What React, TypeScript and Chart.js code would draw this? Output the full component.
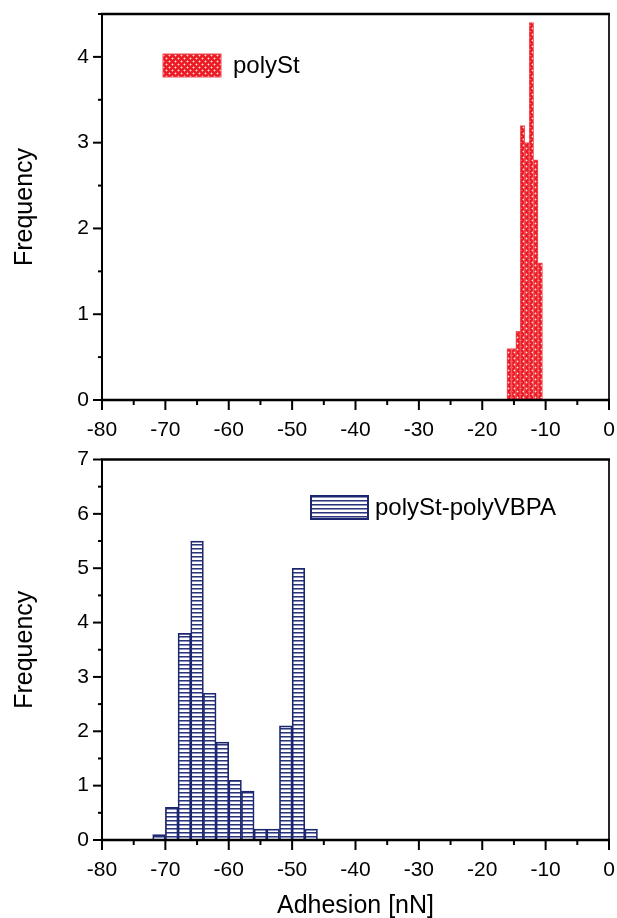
import React, { useEffect, useRef } from 'react';
import { Chart, registerables } from 'chart.js';

Chart.register(...registerables);

const FONT = "'Liberation Sans', Arial, Helvetica, sans-serif";

// ---- data ----
const xMin = -80;
const xMax = 0;
const topBinCenters = [-15.75, -15.05, -14.35, -13.65, -12.95, -12.25, -11.55, -10.85];
const topFrequency = [0.6, 0.6, 0.8, 3.2, 3.0, 4.4, 2.8, 1.6];
const topYMax = 4.5;
const bottomBinCenters = [-71, -69, -67, -65, -63, -61, -59, -57, -55, -53, -51, -49, -47];
const bottomFrequency = [0.1, 0.6, 3.8, 5.5, 2.7, 1.8, 1.1, 0.9, 0.2, 0.2, 2.1, 5.0, 0.2];
const bottomYMax = 7;
const topSeriesName = 'polySt';
const bottomSeriesName = 'polySt-polyVBPA';
const xTitle = 'Adhesion [nN]';
const yTitle = 'Frequency';

const TICK_SIZE = 21;
const TITLE_SIZE = 25;
const LEGEND_SIZE = 24;

function redPattern(ctx: CanvasRenderingContext2D) {
  const t = document.createElement('canvas');
  t.width = 6;
  t.height = 6;
  const c = t.getContext('2d')!;
  c.fillStyle = '#ec1c24';
  c.fillRect(0, 0, 6, 6);
  const dot = (x: number, y: number) => {
    c.fillStyle = 'rgba(255,255,255,0.9)';
    c.fillRect(x, y, 1, 1);
    c.fillStyle = 'rgba(255,255,255,0.35)';
    c.fillRect(x - 1, y, 1, 1);
    c.fillRect(x + 1, y, 1, 1);
    c.fillRect(x, y - 1, 1, 1);
    c.fillRect(x, y + 1, 1, 1);
  };
  dot(1, 1);
  dot(4, 4);
  return ctx.createPattern(t, 'repeat')!;
}

function bluePattern(ctx: CanvasRenderingContext2D) {
  const t = document.createElement('canvas');
  t.width = 4;
  t.height = 4;
  const c = t.getContext('2d')!;
  c.fillStyle = '#ffffff';
  c.fillRect(0, 0, 4, 4);
  c.fillStyle = '#2a3478';
  c.fillRect(0, 0, 4, 1);
  c.fillStyle = '#8d93bd';
  c.fillRect(0, 1, 4, 1);
  return ctx.createPattern(t, 'repeat')!;
}

const framePlugin = {
  id: 'frame',
  afterDraw(chart: any, _args: any, opts: any) {
    const { ctx, chartArea } = chart;
    const { left, right, top, bottom } = chartArea;
    const xs = chart.scales.x;
    const ys = chart.scales.y;
    ctx.save();
    ctx.strokeStyle = '#000';
    ctx.lineCap = 'butt';
    const line = (a: number, b: number, c: number, d: number) => {
      ctx.beginPath();
      ctx.moveTo(a, b);
      ctx.lineTo(c, d);
      ctx.stroke();
    };
    ctx.lineWidth = 2;
    xs.ticks.forEach((t: any) => {
      const px = xs.getPixelForValue(t.value);
      const major = Math.round(t.value) % 10 === 0;
      line(px, bottom, px, bottom + (major ? 10 : 5));
    });
    ys.ticks.forEach((t: any) => {
      const py = ys.getPixelForValue(t.value);
      const major = Number.isInteger(t.value);
      line(left - (major ? 9 : 4), py, left, py);
    });
    // frame
    ctx.lineWidth = 2.5;
    line(left - 1, top, right + 1, top);
    line(left - 1, bottom, right + 1, bottom);
    ctx.lineWidth = 2;
    line(left, top, left, bottom);
    ctx.lineWidth = 1.7;
    line(right, top, right, bottom);

    // legend
    const lg = opts.legend;
    if (lg) {
      ctx.fillStyle = lg.fill;
      ctx.fillRect(lg.x, lg.y, lg.w, lg.h);
      ctx.strokeStyle = lg.stroke;
      ctx.lineWidth = lg.strokeWidth;
      ctx.strokeRect(lg.x, lg.y, lg.w, lg.h);
      ctx.fillStyle = '#000';
      ctx.font = `${LEGEND_SIZE}px ${FONT}`;
      ctx.textBaseline = 'middle';
      ctx.textAlign = 'left';
      ctx.fillText(lg.text, lg.tx, lg.ty);
    }
    ctx.restore();
  },
};

type PanelProps = {
  height: number;
  centers: number[];
  freq: number[];
  yMax: number;
  name: string;
  kind: 'red' | 'blue';
  padTop: number;
  xAxisHeight: number;
  showXTitle: boolean;
  legendBox: { x: number; y: number; w: number; h: number; tx: number; ty: number };
};

function Panel(p: PanelProps) {
  const ref = useRef<HTMLCanvasElement | null>(null);
  useEffect(() => {
    const canvas = ref.current!;
    const ctx = canvas.getContext('2d')!;
    const fill = p.kind === 'red' ? redPattern(ctx) : bluePattern(ctx);
    const border = p.kind === 'red' ? '#f0505a' : '#1c2670';
    const bw = p.kind === 'red' ? 1 : 1.7;
    const chart = new Chart(ctx, {
      type: 'bar',
      data: {
        datasets: [
          {
            label: p.name,
            data: p.centers.map((x, i) => ({ x, y: p.freq[i] })),
            backgroundColor: fill,
            borderColor: border,
            borderWidth: bw,
            barPercentage: 1,
            categoryPercentage: 1,
          } as any,
        ],
      },
      options: {
        responsive: false,
        animation: false,
        devicePixelRatio: 1,
        layout: { padding: { left: 0, right: 8, top: p.padTop, bottom: 0 } },
        plugins: {
          legend: { display: false },
          tooltip: { enabled: false },
          frame: {
            legend: {
              ...p.legendBox,
              text: p.name,
              fill,
              stroke: p.kind === 'red' ? '#f04a55' : '#1c2670',
              strokeWidth: p.kind === 'red' ? 1 : 2,
            },
          },
        } as any,
        scales: {
          x: {
            type: 'linear',
            min: xMin,
            max: xMax,
            offset: false,
            ticks: {
              stepSize: 5,
              autoSkip: false,
              maxRotation: 0,
              color: '#000',
              padding: 10,
              font: { family: FONT, size: TICK_SIZE },
              callback: (v: any) => (Math.round(v) % 10 === 0 ? String(Math.round(v)) : ''),
            },
            grid: { offset: false, drawOnChartArea: false, color: 'rgba(0,0,0,0)', tickLength: 8 },
            border: { display: false },
            title: {
              display: p.showXTitle,
              text: xTitle,
              color: '#000',
              font: { family: FONT, size: TITLE_SIZE },
              padding: { top: 0, bottom: -3 },
            },
            afterFit: (s: any) => {
              s.height = p.xAxisHeight;
              s.paddingLeft = 0;
              s.paddingRight = 0;
            },
          },
          y: {
            type: 'linear',
            min: 0,
            max: p.yMax,
            ticks: {
              stepSize: 0.5,
              autoSkip: false,
              color: '#000',
              padding: 5,
              font: { family: FONT, size: TICK_SIZE },
              callback: (v: any) => (Number.isInteger(v) ? String(v) : ''),
            },
            grid: { drawOnChartArea: false, color: 'rgba(0,0,0,0)', tickLength: 8 },
            border: { display: false },
            title: {
              display: true,
              text: yTitle,
              color: '#000',
              font: { family: FONT, size: TITLE_SIZE },
              padding: { top: 10, bottom: 0 },
            },
            afterFit: (s: any) => {
              s.width = 102;
              s.paddingTop = 0;
              s.paddingBottom = 0;
            },
          },
        },
      } as any,
      plugins: [framePlugin],
    });
    return () => chart.destroy();
  }, []);
  return <canvas ref={ref} width={617} height={p.height} style={{ display: 'block' }} />;
}

export default function App() {
  return (
    <div style={{ position: 'absolute', left: 0, top: 0, width: 617, height: 918, background: '#fff' }}>
      <Panel
        height={444}
        centers={topBinCenters}
        freq={topFrequency}
        yMax={topYMax}
        name={topSeriesName}
        kind="red"
        padTop={14}
        xAxisHeight={44}
        showXTitle={false}
        legendBox={{ x: 163, y: 54, w: 58, h: 23, tx: 233, ty: 66 }}
      />
      <Panel
        height={474}
        centers={bottomBinCenters}
        freq={bottomFrequency}
        yMax={bottomYMax}
        name={bottomSeriesName}
        kind="blue"
        padTop={15.5}
        xAxisHeight={78}
        showXTitle={true}
        legendBox={{ x: 311, y: 52, w: 57, h: 23, tx: 375, ty: 64 }}
      />
    </div>
  );
}
